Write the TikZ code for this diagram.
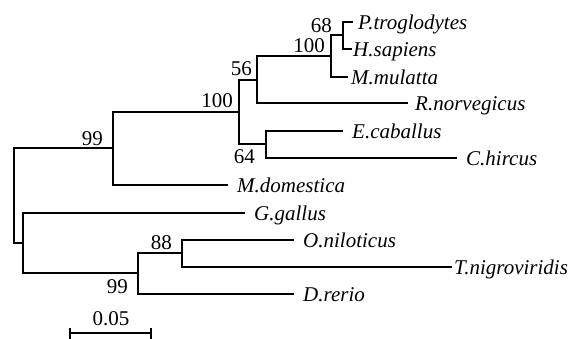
\documentclass[tikz,border=0pt]{standalone}
\usepackage{fontspec}
\setmainfont{Liberation Serif}
\begin{document}
\begin{tikzpicture}[x=1pt,y=-1pt,
  branch/.style={draw, line width=1.8pt, line join=miter},
  leaf/.style={anchor=base west, inner sep=0pt, font=\fontsize{21}{25}\selectfont\itshape},
  boot/.style={anchor=base east, inner sep=0pt, font=\fontsize{21}{25}\selectfont},
  scalelab/.style={anchor=base, inner sep=0pt, font=\fontsize{21}{25}\selectfont}]
\useasboundingbox (0,0) rectangle (580,338);
% internal nodes
\coordinate (root) at (14,196);
\coordinate (n99a) at (113,148);
\coordinate (n100a) at (239,112);
\coordinate (n56) at (257,80);
\coordinate (n100b) at (331,56);
\coordinate (n68) at (343,35);
\coordinate (n64) at (266,144);
\coordinate (nB) at (23,243);
\coordinate (n99b) at (138,273);
\coordinate (n88) at (182,253);
% tips
\coordinate (tPtro) at (353,22);
\coordinate (tHsap) at (352,49);
\coordinate (tMmul) at (348,77);
\coordinate (tRnor) at (408,103);
\coordinate (tEcab) at (343,131);
\coordinate (tChir) at (457,158);
\coordinate (tMdom) at (228,185);
\coordinate (tGgal) at (245,213);
\coordinate (tOnil) at (294,240);
\coordinate (tTnig) at (452,267);
\coordinate (tDrer) at (294,294);
% leaf labels
\node[leaf] (Ptro) at (358,29) {P.troglodytes};
\node[leaf] (Hsap) at (353,56) {H.sapiens};
\node[leaf] (Mmul) at (351,84) {M.mulatta};
\node[leaf] (Rnor) at (415,110) {R.norvegicus};
\node[leaf] (Ecab) at (352,138) {E.caballus};
\node[leaf] (Chir) at (466,165) {C.hircus};
\node[leaf] (Mdom) at (237,192) {M.domestica};
\node[leaf] (Ggal) at (254,220) {G.gallus};
\node[leaf] (Onil) at (303,247) {O.niloticus};
\node[leaf] (Tnig) at (454,274) {T.nigroviridis};
\node[leaf] (Drer) at (303,301) {D.rerio};
% branches
\draw[branch] (n99a) -| (root) |- (nB);
\draw[branch] (n100a) -| (n99a) |- (tMdom);
\draw[branch] (n56) -| (n100a) |- (n64);
\draw[branch] (n100b) -| (n56) |- (tRnor);
\draw[branch] (n68) -| (n100b) |- (tMmul);
\draw[branch] (tPtro) -| (n68) |- (tHsap);
\draw[branch] (tEcab) -| (n64) |- (tChir);
\draw[branch] (tGgal) -| (nB) |- (n99b);
\draw[branch] (n88) -| (n99b) |- (tDrer);
\draw[branch] (tOnil) -| (n88) |- (tTnig);
% bootstrap values
\node[boot] (b68) at (332,32) {68};
\node[boot] (b100b) at (325,52) {100};
\node[boot] (b56) at (252,75) {56};
\node[boot] (b100a) at (233,107) {100};
\node[boot] (b64) at (255,163) {64};
\node[boot] (b99a) at (103,145) {99};
\node[boot] (b88) at (172,249) {88};
\node[boot] (b99b) at (128,293) {99};
% scale bar
\coordinate (sbL) at (70,333);
\coordinate (sbR) at (151,333);
\draw[branch] (sbL) -- (sbR);
\draw[branch] ([yshift=-5.5pt]sbL) -- ([yshift=5.5pt]sbL);
\draw[branch] ([yshift=-5.5pt]sbR) -- ([yshift=5.5pt]sbR);
\node[scalelab] (sblab) at (111,325) {0.05};
\end{tikzpicture}
\end{document}
